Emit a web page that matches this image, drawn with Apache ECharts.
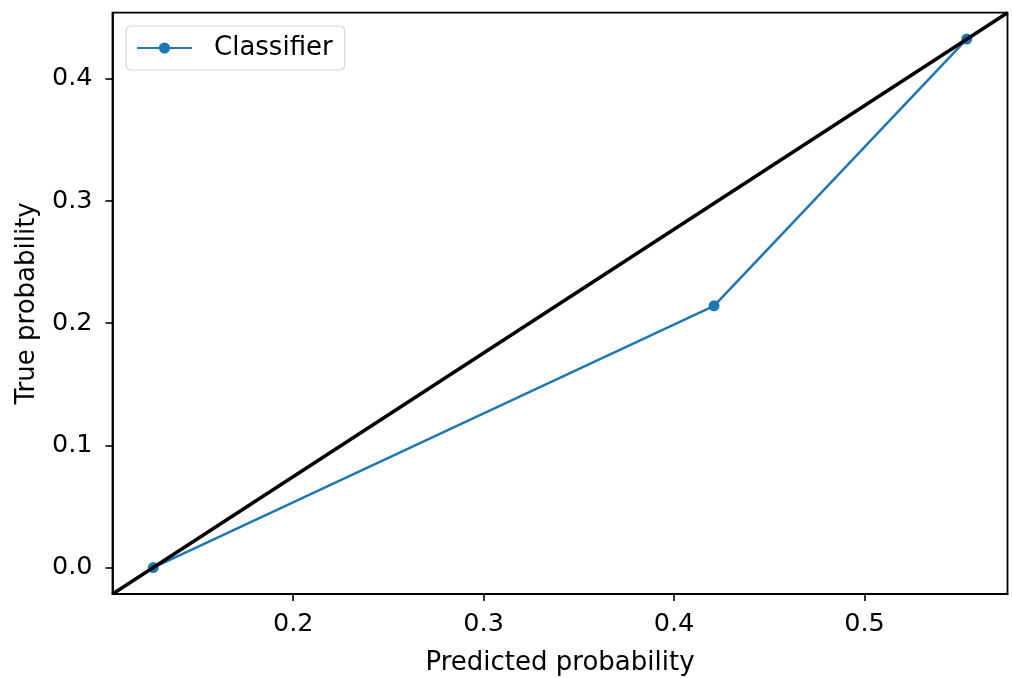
<!DOCTYPE html>
<html>
<head>
<meta charset="utf-8">
<script src="https://cdn.jsdelivr.net/npm/echarts@6/dist/echarts.min.js"></script>
<style>
  html, body { margin: 0; padding: 0; background: #fff; }
  #chart { width: 1012px; height: 678px; }
</style>
</head>
<body>
<div id="chart"></div>
<script>
// calibration curve points (predicted, true)
var predicted = [0.1265, 0.421, 0.5537];
var observed = [0.0, 0.2142, 0.4325];
// reference line, runs corner to corner of the axes
var refX = [0.1051, 0.5751];
var refY = [-0.0216, 0.4541];
var xTicks = [0.2, 0.3, 0.4, 0.5];
var yTicks = [0.0, 0.1, 0.2, 0.3, 0.4];

var font = 'DejaVu Sans';
var chart = echarts.init(document.getElementById('chart'));

function axisBase() {
  return {
    type: 'value',
    splitLine: { show: false },
    axisLine: { show: true, onZero: false, lineStyle: { color: '#000', width: 1.8 } },
    axisTick: { show: true, inside: false, length: 7, lineStyle: { color: '#000', width: 1.6 } },
    axisLabel: { color: '#000', fontFamily: font, fontSize: 25.5 },
    nameTextStyle: { color: '#000', fontFamily: font, fontSize: 26 },
    nameLocation: 'middle'
  };
}

var xAxis = axisBase();
xAxis.min = refX[0];
xAxis.max = refX[1];
xAxis.name = 'Predicted probability';
xAxis.nameGap = 56;
xAxis.axisTick.customValues = xTicks;
xAxis.axisLabel.customValues = xTicks;
xAxis.axisLabel.margin = 17;
xAxis.axisLabel.formatter = function (v) { return v.toFixed(1); };

var yAxis = axisBase();
yAxis.min = refY[0];
yAxis.max = refY[1];
yAxis.name = 'True probability';
yAxis.nameGap = 72;
yAxis.axisTick.customValues = yTicks;
yAxis.axisLabel.customValues = yTicks;
yAxis.axisLabel.margin = 20;
yAxis.axisLabel.formatter = function (v) { return v.toFixed(1); };

var option = {
  animation: false,
  backgroundColor: '#fff',
  grid: {
    left: 112.5, right: 4.5, top: 12.7, bottom: 84,
    outerBoundsMode: 'none',
    containLabel: false,
    show: true, borderColor: '#000', borderWidth: 1.8, backgroundColor: 'transparent'
  },
  legend: {
    left: 126, top: 26,
    data: ['Classifier'],
    orient: 'vertical',
    itemWidth: 55, itemHeight: 14,
    padding: [9, 12, 9, 10],
    backgroundColor: '#fff',
    borderColor: '#d6d6d6', borderWidth: 1.2, borderRadius: 5,
    textStyle: { color: '#000', fontFamily: font, fontSize: 26, padding: [0, 0, 0, 17] }
  },
  xAxis: xAxis,
  yAxis: yAxis,
  series: [
    {
      name: 'Classifier',
      type: 'line',
      data: predicted.map(function (p, i) { return [p, observed[i]]; }),
      symbol: 'circle',
      symbolSize: 11,
      showSymbol: true,
      color: '#1f77b4',
      lineStyle: { width: 2.5, color: '#1f77b4' },
      itemStyle: { color: '#1f77b4' },
      z: 3
    },
    {
      name: 'ref',
      type: 'line',
      data: refX.map(function (x, i) { return [x, refY[i]]; }),
      symbol: 'none',
      lineStyle: { width: 3.5, color: '#000' },
      z: 4
    }
  ]
};
chart.setOption(option);
</script>
</body>
</html>
